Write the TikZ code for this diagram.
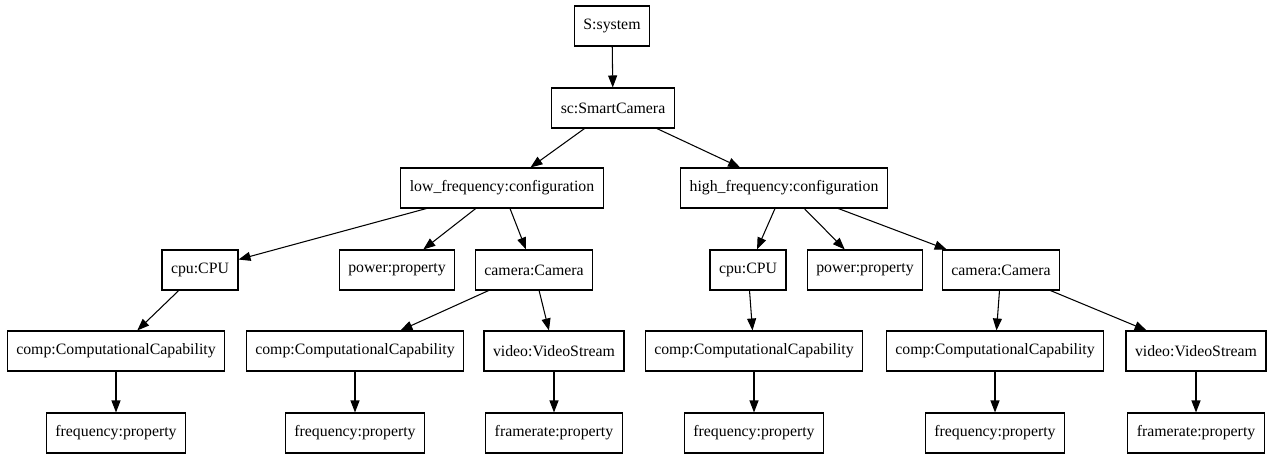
\documentclass[tikz,border=0pt]{standalone}
\usepackage{fontspec}
\setmainfont{Liberation Serif}
\usetikzlibrary{arrows.meta}
\tikzset{
  box/.style={
    rectangle,
    draw,
    line width=0.6pt,
    align=center,
    minimum height=8mm,
    inner xsep=1.8mm,
    font=\fontsize{9}{11}\selectfont
  },
  arrow/.style={-{Triangle[length=2.4mm, width=1.8mm]}, line width=0.6pt}
}

\begin{document}
\begin{tikzpicture}[x=0.02cm,y=-0.02cm]
\useasboundingbox (0,0) rectangle (1273,455);
\node[box] (sys) at (612,26) {S:system};
\node[box] (smartcam) at (613,108) {sc:SmartCamera};
\node[box] (lowcfg) at (502,188) {low\_frequency:configuration};
\node[box] (highcfg) at (784,188) {high\_frequency:configuration};
\node[box] (lowcpu) at (200,270) {cpu:CPU};
\node[box] (lowpower) at (397,270) {power:property};
\node[box] (lowcam) at (534,270) {camera:Camera};
\node[box] (highcpu) at (748,270) {cpu:CPU};
\node[box] (highpower) at (865,270) {power:property};
\node[box] (highcam) at (1001,270) {camera:Camera};
\node[box] (lowcpucomp) at (116,351) {comp:ComputationalCapability};
\node[box] (lowcamcomp) at (355,351) {comp:ComputationalCapability};
\node[box] (lowvideo) at (554,351) {video:VideoStream};
\node[box] (highcpucomp) at (754,351) {comp:ComputationalCapability};
\node[box] (highcamcomp) at (995,351) {comp:ComputationalCapability};
\node[box] (highvideo) at (1196,351) {video:VideoStream};
\node[box] (lowcpufreq) at (116,433) {frequency:property};
\node[box] (lowcamfreq) at (355,433) {frequency:property};
\node[box] (lowrate) at (554,433) {framerate:property};
\node[box] (highcpufreq) at (754,433) {frequency:property};
\node[box] (highcamfreq) at (995,433) {frequency:property};
\node[box] (highrate) at (1196,433) {framerate:property};

\draw[arrow] (sys) -- (smartcam);
\draw[arrow] (smartcam) -- (lowcfg);
\draw[arrow] (smartcam) -- (highcfg);
\draw[arrow] (lowcfg) -- (lowcpu);
\draw[arrow] (lowcfg) -- (lowpower);
\draw[arrow] (lowcfg) -- (lowcam);
\draw[arrow] (highcfg) -- (highcpu);
\draw[arrow] (highcfg) -- (highpower);
\draw[arrow] (highcfg) -- (highcam);
\draw[arrow] (lowcpu) -- (lowcpucomp);
\draw[arrow] (lowcam) -- (lowcamcomp);
\draw[arrow] (lowcam) -- (lowvideo);
\draw[arrow] (highcpu) -- (highcpucomp);
\draw[arrow] (highcam) -- (highcamcomp);
\draw[arrow] (highcam) -- (highvideo);
\draw[arrow] (lowcpucomp) -- (lowcpufreq);
\draw[arrow] (lowcamcomp) -- (lowcamfreq);
\draw[arrow] (lowvideo) -- (lowrate);
\draw[arrow] (highcpucomp) -- (highcpufreq);
\draw[arrow] (highcamcomp) -- (highcamfreq);
\draw[arrow] (highvideo) -- (highrate);
\end{tikzpicture}
\end{document}
